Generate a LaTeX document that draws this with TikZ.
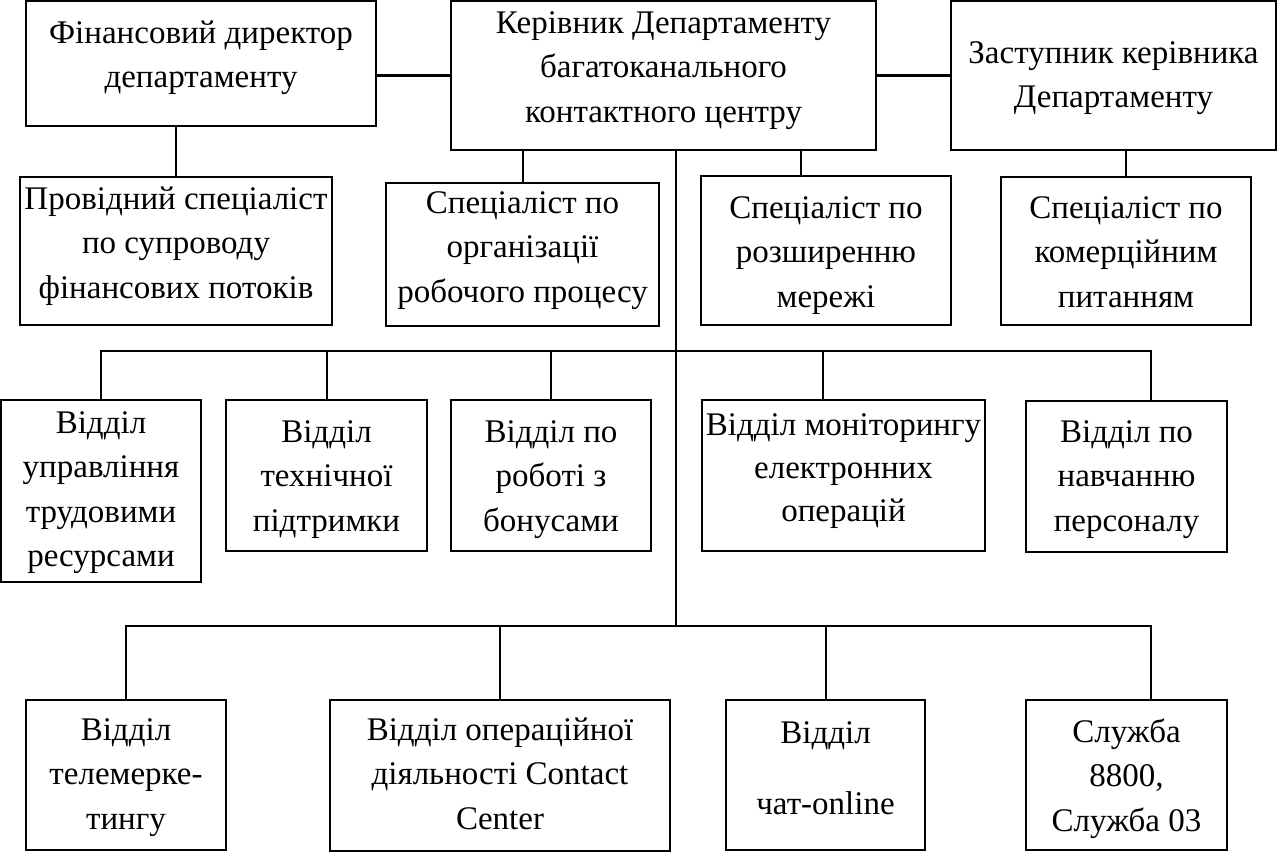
\documentclass[tikz,border=0pt]{standalone}
\usepackage{fontspec}
\setmainfont{Liberation Serif}
\usetikzlibrary{fit}
\newcommand\fstr{\rule{0pt}{12.5pt}}
\tikzset{
  box/.style={draw=black, line width=1.1pt, inner sep=0pt, fill=none},
  txt/.style={align=center, inner sep=0pt, anchor=north, yshift=12.5pt,
    font=\fontsize{16.5pt}{22.25pt}\selectfont},
  conn/.style={draw=black, line width=1pt},
  thickconn/.style={draw=black, line width=1.5pt}
}
\begin{document}
\begin{tikzpicture}[x=0.5pt, y=-0.5pt]
\useasboundingbox (0,0) rectangle (1277,853);
% top row
\node[box, fit={(26,1) (376,126)}] (fin) {};
\node[txt] (finT) at (201,43) {\fstr Фінансовий директор\\департаменту};
\node[box, fit={(451,1) (876,150)}] (main) {};
\node[txt] (mainT) at (663.5,33) {\fstr Керівник Департаменту\\багатоканального\\контактного центру};
\node[box, fit={(951,1) (1276,150)}] (zast) {};
\node[txt] (zastT) at (1113.5,63) {\fstr Заступник керівника\\Департаменту};
% second row
\node[box, fit={(20,177) (332,325)}] (prov) {};
\node[txt] (provT) at (176,209) {\fstr Провідний спеціаліст\\по супроводу\\фінансових потоків};
\node[box, fit={(386,183) (659,326)}] (org) {};
\node[txt] (orgT) at (522.5,213) {\fstr Спеціаліст по\\організації\\робочого процесу};
\node[box, fit={(701,176) (951,325)}] (rozsh) {};
\node[txt] (rozshT) at (826,218) {\fstr Спеціаліст по\\розширенню\\мережі};
\node[box, fit={(1001,177) (1251,325)}] (kom) {};
\node[txt] (komT) at (1126,218) {\fstr Спеціаліст по\\комерційним\\питанням};
% third row
\node[box, fit={(1,400) (201,582)}] (d1) {};
\node[txt] (d1T) at (101,433) {\fstr Відділ\\управління\\трудовими\\ресурсами};
\node[box, fit={(226,400) (427,551)}] (d2) {};
\node[txt] (d2T) at (326.5,442) {\fstr Відділ\\технічної\\підтримки};
\node[box, fit={(451,400) (651,551)}] (d3) {};
\node[txt] (d3T) at (551,442) {\fstr Відділ по\\роботі з\\бонусами};
\node[box, fit={(702,400) (985,551)}] (d4) {};
\node[txt, font=\fontsize{16.5pt}{21.5pt}\selectfont] (d4T) at (843.5,435) {\fstr Відділ моніторингу\\електронних\\операцій};
\node[box, fit={(1026,401) (1227,552)}] (d5) {};
\node[txt] (d5T) at (1126.5,442) {\fstr Відділ по\\навчанню\\персоналу};
% fourth row
\node[box, fit={(26,700) (226,850)}] (b1) {};
\node[txt] (b1T) at (126,740) {\fstr Відділ\\телемерке-\\тингу};
\node[box, fit={(330,700) (670,851)}] (b2) {};
\node[txt] (b2T) at (500,740) {\fstr Відділ операційної\\діяльності Contact\\Center};
\node[box, fit={(726,700) (925,850)}] (b3) {};
\node[txt, font=\fontsize{16.5pt}{35.5pt}\selectfont] (b3T) at (825.5,743) {\fstr Відділ\\чат-online};
\node[box, fit={(1026,700) (1227,850)}] (b4) {};
\node[txt] (b4T) at (1126.5,742) {\fstr Служба\\8800,\\Служба 03};
% helper coordinates
\coordinate (rz) at (801,150);
\coordinate (t0) at (676,150);
\coordinate (t1) at (676,626);
\coordinate (bus1R) at (1151,351);
\coordinate (d4c) at (823,351);
\coordinate (bus2R) at (1151,626);
% connectors
\draw[thickconn] (main.west) -- (main.west -| fin.east);
\draw[thickconn] (main.east) -- (zast.west);
\draw[conn] (prov.north) -- (prov.north |- fin.south);
\draw[conn] (org.north) -- (org.north |- main.south);
\draw[conn] (rz) -- (rz |- rozsh.north);
\draw[conn] (kom.north) -- (kom.north |- zast.south);
\draw[conn] (t0) -- (t1);
\draw[conn] (d1.north) -- (d1.north |- bus1R) -- (bus1R) -- (bus1R |- d5.north);
\draw[conn] (d2.north) -- (d2.north |- bus1R);
\draw[conn] (d3.north) -- (d3.north |- bus1R);
\draw[conn] (d4c) -- (d4c |- d4.north);
\draw[conn] (b1.north) -- (b1.north |- bus2R) -- (bus2R) -- (bus2R |- b4.north);
\draw[conn] (b2.north) -- (b2.north |- bus2R);
\draw[conn] (b3.north) -- (b3.north |- bus2R);
\end{tikzpicture}
\end{document}
